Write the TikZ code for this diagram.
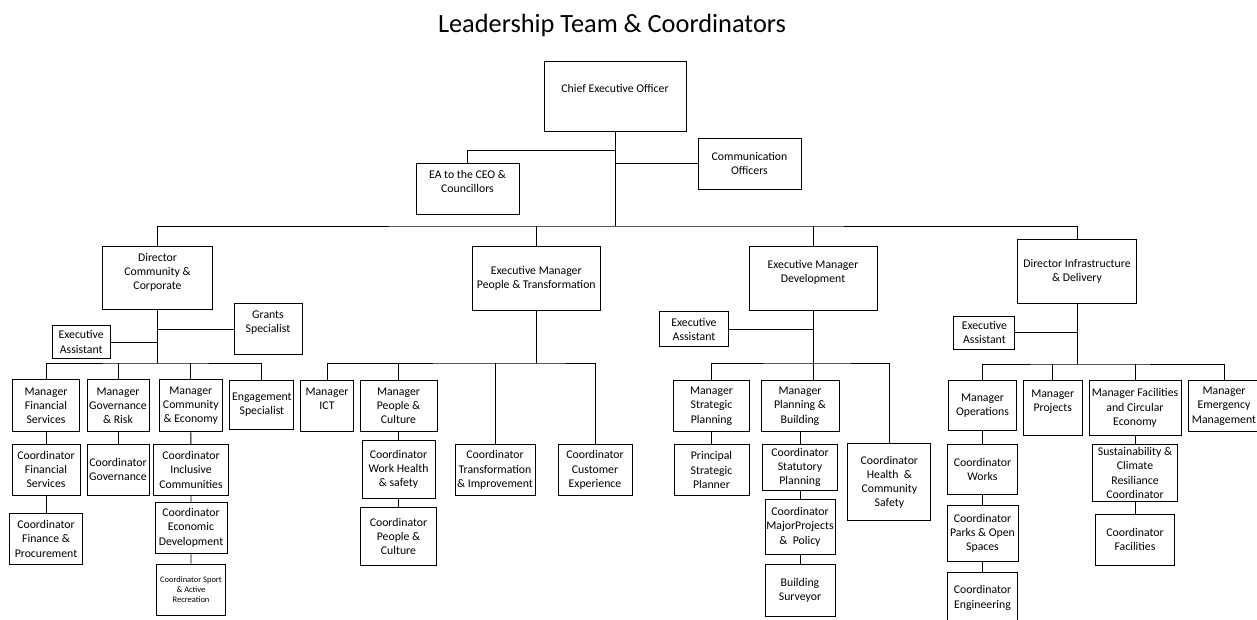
\documentclass[tikz,border=0pt]{standalone}
\usepackage{fontspec}
\setmainfont{Carlito}
\usepackage{tikz}

\begin{document}
\begin{tikzpicture}[x=0.02cm, y=-0.02cm, line width=0.5pt,
    box/.style={draw, align=center, inner sep=0pt, font=\fontsize{6.7}{8.1}\selectfont},
    bw/.style={minimum width=#1*0.02cm},
    bh/.style={minimum height=#1*0.02cm}]
    \useasboundingbox (0,0) rectangle (1257,619);
    \clip (0,0) rectangle (1257,619);

    \node[anchor=base, font=\fontsize{15}{18}\selectfont] (title) at (612,32.7) {Leadership Team \& Coordinators};

    \node[box, bw=142, bh=70] (ceo) at (615,96) {Chief Executive Officer\\~};
    \node[box, bw=103, bh=51] (ea) at (467.5,188.5) {EA to the CEO \&\\Councillors\\~};
    \node[box, bw=103, bh=51] (comm) at (749.5,163.5) {Communication\\Officers};

    \node[box, bw=110, bh=63] (dcc) at (157.5,278.3) {Director\\Community \&\\Corporate\\~};
    \node[box, bw=128, bh=64] (empt) at (536.3,278.5) {Executive Manager\\People \& Transformation};
    \node[box, bw=128, bh=64] (emd) at (813,278.5) {Executive Manager\\Development\\~};
    \node[box, bw=119, bh=64] (did) at (1077,271.3) {Director Infrastructure\\\& Delivery};

    \node[box, bw=68, bh=51] (grants) at (268,329) {Grants\\Specialist\\~};
    \node[box, bw=58, bh=33] (ea1) at (81.2,342) {Executive\\Assistant};
    \node[box, bw=69, bh=35] (ea3) at (694,329.2) {Executive\\Assistant};
    \node[box, bw=61, bh=33] (ea4) at (984.4,332.8) {Executive\\Assistant};

    \node[box, bw=67, bh=52] (mfs) at (46,405.9) {Manager\\Financial\\Services};
    \node[box, bw=62, bh=52] (mgr) at (118,405.9) {Manager\\Governance\\\& Risk};
    \node[box, bw=63, bh=52] (mce) at (190.8,405.9) {Manager\\Community\\\& Economy};
    \node[box, bw=64, bh=49] (eng) at (261.9,404.7) {Engagement\\Specialist};
    \node[box, bw=68, bh=51] (cfs) at (46,469.7) {Coordinator\\Financial\\Services};
    \node[box, bw=62, bh=51] (cgov) at (118,469.7) {Coordinator\\Governance};
    \node[box, bw=75, bh=51] (cic) at (191,469.8) {Coordinator\\Inclusive\\Communities};
    \node[box, bw=73, bh=51] (cfp) at (46,538.8) {Coordinator\\Finance \&\\Procurement};
    \node[box, bw=72, bh=51] (ced) at (191,527.8) {Coordinator\\Economic\\Development};
    \node[box, bw=69, bh=51, font=\fontsize{4.8}{5.9}\selectfont] (csar) at (191,589.5) {Coordinator Sport\\\& Active\\Recreation};

    \node[box, bw=53, bh=51] (ict) at (327,406) {Manager\\ICT\\~};
    \node[box, bw=77, bh=51] (mpc) at (398.5,406) {Manager\\People \&\\Culture};
    \node[box, bw=73, bh=58] (cwhs) at (398.5,469.3) {Coordinator\\Work Health\\\& safety};
    \node[box, bw=76, bh=58] (cpc) at (398.5,536.7) {Coordinator\\People \&\\Culture};
    \node[box, bw=80, bh=51] (cti) at (495,470) {Coordinator\\Transformation\\\& Improvement};
    \node[box, bw=74, bh=51] (cce) at (595,470) {Coordinator\\Customer\\Experience};

    \node[box, bw=76, bh=51] (msp) at (711.5,406) {Manager\\Strategic\\Planning};
    \node[box, bw=78, bh=51] (mpb) at (800,406) {Manager\\Planning \&\\Building};
    \node[box, bw=75, bh=51] (psp) at (711.5,470) {Principal\\Strategic\\Planner};
    \node[box, bw=75, bh=46] (cspl) at (800,467.2) {Coordinator\\Statutory\\Planning};
    \node[box, bw=70, bh=55] (cmpp) at (800,526.8) {Coordinator\\MajorProjects\\\&\ \ Policy};
    \node[box, bw=70, bh=52] (bs) at (800,590.2) {Building\\Surveyor};
    \node[box, bw=83, bh=77] (chcs) at (889.4,482.3) {Coordinator\\Health\ \ \&\\Community\\Safety};

    \node[box, bw=68, bh=50] (mops) at (982.5,405.3) {Manager\\Operations};
    \node[box, bw=59, bh=55] (mproj) at (1052.7,408) {Manager\\Projects\\~};
    \node[box, bw=92, bh=55] (mfac) at (1135,408) {Manager Facilities\\and Circular\\Economy};
    \node[box, bw=72, bh=51] (memg) at (1224,406) {Manager\\Emergency\\Management};
    \node[box, bw=70, bh=50] (cwks) at (982.5,469.3) {Coordinator\\Works};
    \node[box, bw=71, bh=56] (cpos) at (982.5,533.5) {Coordinator\\Parks \& Open\\Spaces};
    \node[box, bw=70, bh=52] (ceng) at (982.5,598) {Coordinator\\Engineering};
    \node[box, bw=85, bh=57] (scrc) at (1135,473) {Sustainability \&\\Climate\\Resiliance\\Coordinator};
    \node[box, bw=79, bh=51] (cfac) at (1135,539.8) {Coordinator\\Facilities};

    \coordinate (top) at (615,226);
    \coordinate (eaj) at (615,150);
    \draw (ceo) -- (top);
    \draw (ea.north) |- (eaj);
    \draw (comm) -- (comm -| ceo);
    \draw (dcc.north) |- (top) -| (did.north);
    \draw (empt) -- (empt |- top);
    \draw (emd) -- (emd |- top);

    \coordinate (b1) at (157.5,363);
    \draw (dcc) -- (b1);
    \draw (grants) -- (grants -| dcc);
    \draw (ea1) -- (ea1 -| dcc);
    \draw (mfs.north) |- (b1) -| (eng.north);
    \draw (mgr) -- (mgr |- b1);
    \draw (mce) -- (mce |- b1);
    \draw (mfs) -- (cfs) -- (cfp);
    \draw (mgr) -- (cgov);
    \draw (mce) -- (cic) -- (ced) -- (csar);

    \coordinate (b2) at (536.3,363);
    \draw (empt) -- (b2);
    \draw (ict.north) |- (b2) -| (cce.north);
    \draw (mpc) -- (mpc |- b2);
    \draw (cti) -- (cti |- b2);
    \draw (mpc) -- (cwhs) -- (cpc);

    \coordinate (b3) at (813,363);
    \draw (emd) -- (emd |- mpb.north);
    \draw (ea3) -- (ea3 -| emd);
    \draw (msp.north) |- (b3) -| (chcs.north);
    \draw (msp) -- (psp);
    \draw (mpb) -- (cspl) -- (cmpp) -- (bs);

    \coordinate (b4) at (1077,364);
    \draw (did) -- (b4);
    \draw (ea4) -- (ea4 -| did);
    \draw (mops.north) |- (b4) -| (memg.north);
    \draw (mproj) -- (mproj |- b4);
    \draw (mfac) -- (mfac |- b4);
    \draw (mops) -- (cwks) -- (cpos) -- (ceng);
    \draw (mfac) -- (scrc) -- (cfac);
\end{tikzpicture}
\end{document}
